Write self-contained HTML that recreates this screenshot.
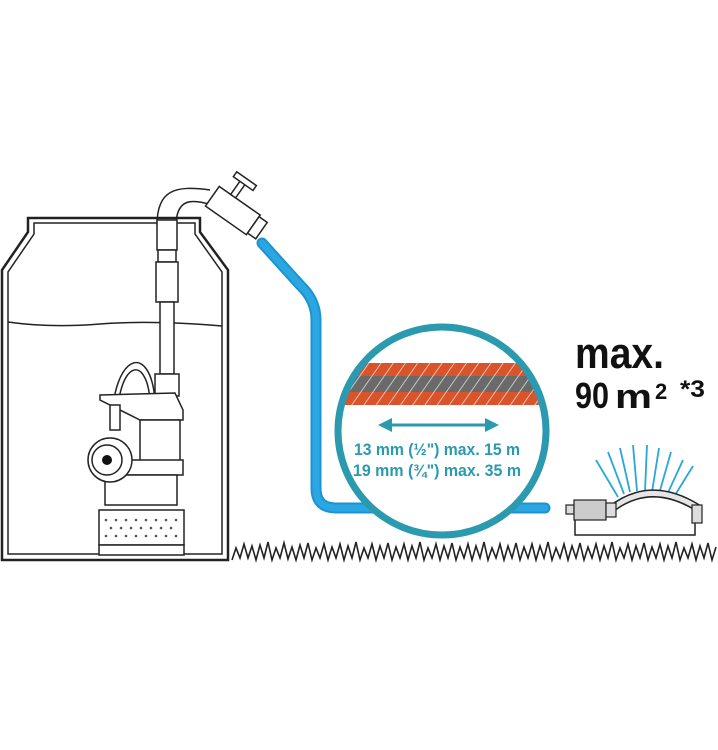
<!DOCTYPE html>
<html><head><meta charset="utf-8"><style>
html,body{margin:0;padding:0;background:#fff;}
svg{display:block;}
text{font-family:"Liberation Sans",sans-serif;font-weight:bold;}
</style></head><body>
<svg width="718" height="750" viewBox="0 0 718 750" xmlns="http://www.w3.org/2000/svg">
<defs>
<clipPath id="cc"><circle cx="442" cy="431" r="101"/></clipPath>
<pattern id="hatch" width="10" height="10" patternUnits="userSpaceOnUse" patternTransform="rotate(35)">
<line x1="0" y1="0" x2="0" y2="10" stroke="#fff" stroke-width="1.5" opacity="0.8"/>
</pattern>
</defs>
<path d="M28,218 L200,218 L200,232 L228,270 L228,560 L2,560 L2,270 L28,232 Z" fill="none" stroke="#222" stroke-width="2.5"/>
<path d="M34,223 L195,223 L195,234 L222,272 L222,554 L8,554 L8,272 L34,234 Z" fill="none" stroke="#222" stroke-width="1.5"/>
<path d="M8,322 Q50,328 100,324 T222,326" fill="none" stroke="#222" stroke-width="1.5"/>
<path d="M157,225 C157,190 175,185 210,190" fill="none" stroke="#222" stroke-width="1.5"/>
<path d="M176,222 C178,200 190,198 212,205" fill="none" stroke="#222" stroke-width="1.5"/>
<rect x="157" y="220" width="20" height="30" fill="#fff" stroke="#222" stroke-width="1.5"/>
<rect x="158" y="250" width="18" height="12" fill="#fff" stroke="#222" stroke-width="1.5"/>
<rect x="156" y="262" width="22" height="40" fill="#fff" stroke="#222" stroke-width="1.5"/>
<rect x="160" y="302" width="14" height="72" fill="#fff" stroke="#222" stroke-width="1.5"/>
<rect x="155" y="374" width="24" height="22" fill="#fff" stroke="#222" stroke-width="1.5"/>
<g transform="rotate(35 232 210)">
<rect x="208" y="198" width="50" height="24" fill="#fff" stroke="#222" stroke-width="1.5"/>
<rect x="222" y="180" width="6" height="18" fill="#fff" stroke="#222" stroke-width="1.5"/>
<rect x="214" y="176" width="24" height="6" fill="#fff" stroke="#222" stroke-width="1.5"/>
<rect x="258" y="200" width="10" height="20" fill="#fff" stroke="#222" stroke-width="1.5"/>
</g>
<path d="M112,425 C112,355 150,340 155,400" fill="none" stroke="#222" stroke-width="1.5"/>
<path d="M117,425 C117,362 146,352 150,400" fill="none" stroke="#222" stroke-width="1.5"/>
<path d="M100,395 L175,393 L183,410 L183,420 L140,420 L100,400 Z" fill="#fff" stroke="#222" stroke-width="1.5"/>
<rect x="140" y="420" width="40" height="50" fill="#fff" stroke="#222" stroke-width="1.5"/>
<rect x="108" y="460" width="75" height="15" fill="#fff" stroke="#222" stroke-width="1.5"/>
<rect x="105" y="475" width="72" height="30" fill="#fff" stroke="#222" stroke-width="1.5"/>
<rect x="99" y="510" width="85" height="35" fill="#fff" stroke="#222" stroke-width="1.5"/>
<rect x="99" y="545" width="85" height="10" fill="#fff" stroke="#222" stroke-width="1.5"/>
<g fill="#555"><circle cx="106" cy="520" r="1.3"/><circle cx="116" cy="520" r="1.3"/><circle cx="126" cy="520" r="1.3"/><circle cx="136" cy="520" r="1.3"/><circle cx="146" cy="520" r="1.3"/><circle cx="156" cy="520" r="1.3"/><circle cx="166" cy="520" r="1.3"/><circle cx="176" cy="520" r="1.3"/>
<circle cx="111" cy="528" r="1.3"/><circle cx="121" cy="528" r="1.3"/><circle cx="131" cy="528" r="1.3"/><circle cx="141" cy="528" r="1.3"/><circle cx="151" cy="528" r="1.3"/><circle cx="161" cy="528" r="1.3"/><circle cx="171" cy="528" r="1.3"/>
<circle cx="106" cy="536" r="1.3"/><circle cx="116" cy="536" r="1.3"/><circle cx="126" cy="536" r="1.3"/><circle cx="136" cy="536" r="1.3"/><circle cx="146" cy="536" r="1.3"/><circle cx="156" cy="536" r="1.3"/><circle cx="166" cy="536" r="1.3"/><circle cx="176" cy="536" r="1.3"/></g>
<rect x="110" y="405" width="10" height="25" fill="#fff" stroke="#222" stroke-width="1.5"/>
<circle cx="110" cy="460" r="22" fill="#fff" stroke="#222" stroke-width="1.5"/>
<circle cx="107" cy="460" r="15" fill="#fff" stroke="#222" stroke-width="1.5"/>
<circle cx="107" cy="460" r="5" fill="#111"/>
<path d="M262,243 L300,285 Q316,300 316,320 L316,488 Q316,508 336,508 L545,508" fill="none" stroke="#1b94cf" stroke-width="11" stroke-linecap="round"/>
<path d="M262,243 L300,285 Q316,300 316,320 L316,488 Q316,508 336,508 L545,508" fill="none" stroke="#2aa7e2" stroke-width="7" stroke-linecap="round"/>
<circle cx="442" cy="431" r="101" fill="#fff"/>
<g clip-path="url(#cc)">
<rect x="330" y="363" width="230" height="13" fill="#d9532b"/>
<rect x="330" y="376" width="230" height="16" fill="#6a6a6a"/>
<rect x="330" y="392" width="230" height="13" fill="#d9532b"/>
<rect x="330" y="363" width="230" height="42" fill="url(#hatch)"/>
</g>
<circle cx="442" cy="431" r="104" fill="none" stroke="#2b9aaf" stroke-width="7"/>
<line x1="390" y1="425" x2="488" y2="425" stroke="#2b9aaf" stroke-width="3"/>
<polygon points="378,425 392,418 392,432" fill="#2b9aaf"/>
<polygon points="499,425 485,418 485,432" fill="#2b9aaf"/>
<text x="437" y="455" font-size="17" fill="#2b9aaf" text-anchor="middle" textLength="166" lengthAdjust="spacingAndGlyphs">13 mm (½") max. 15 m</text>
<text x="437" y="476" font-size="17" fill="#2b9aaf" text-anchor="middle" textLength="168" lengthAdjust="spacingAndGlyphs">19 mm (¾") max. 35 m</text>
<text x="575" y="368" font-size="44" fill="#111" textLength="89" lengthAdjust="spacingAndGlyphs">max.</text>
<text x="575" y="408" font-size="36" fill="#111" textLength="34" lengthAdjust="spacingAndGlyphs">90</text>
<text x="615" y="408" font-size="34" fill="#111" textLength="37" lengthAdjust="spacingAndGlyphs">m</text>
<text x="655" y="399" font-size="22" fill="#111">2</text>
<text x="680" y="397" font-size="24" fill="#111" textLength="25" lengthAdjust="spacingAndGlyphs">*3</text>
<g stroke="#2aa7d8" stroke-width="1.8">
<line x1="618" y1="497" x2="596" y2="460"/><line x1="624" y1="494" x2="608" y2="452"/><line x1="630" y1="492" x2="620" y2="448"/><line x1="637" y1="491" x2="633" y2="445"/><line x1="645" y1="491" x2="647" y2="445"/><line x1="652" y1="492" x2="659" y2="448"/><line x1="659" y1="494" x2="671" y2="452"/><line x1="666" y1="497" x2="683" y2="460"/><line x1="672" y1="500" x2="693" y2="466"/>
</g>
<path d="M610,510 Q650,478 698,508" fill="none" stroke="#222" stroke-width="8"/>
<path d="M610,510 Q650,478 698,508" fill="none" stroke="#e6e6e6" stroke-width="5"/>
<path d="M575,518 L575,535 L695,535 L695,520" fill="none" stroke="#222" stroke-width="1.5"/>
<rect x="566" y="505" width="8" height="9" fill="#ddd" stroke="#222" stroke-width="1.2"/>
<rect x="574" y="500" width="32" height="20" fill="#ccc" stroke="#222" stroke-width="1.2"/>
<rect x="606" y="503" width="10" height="14" fill="#ddd" stroke="#222" stroke-width="1.2"/>
<rect x="692" y="505" width="10" height="18" fill="#ddd" stroke="#222" stroke-width="1.2"/>
<path d="M232,560 L236,548 L240,558 L244,544 L248,558 L252,546 L256,560 L260,545 L264,558 L268,542 L272,560 L276,548 L280,558 L284,543 L288,559 L292,547 L296,560 L300,545 L304,558 L308,543 L312,560 L316,548 L320,558 L324,544 L328,560 L332,547 L336,558 L340,544 L344,560 L348,546 L352,558 L356,542 L360,560 L364,548 L368,558 L372,544 L376,560 L380,546 L384,558 L388,543 L392,560 L396,547 L400,558 L404,544 L408,560 L412,546 L416,558 L420,542 L424,560 L428,548 L432,558 L436,544 L440,560 L444,546 L448,558 L452,543 L456,560 L460,547 L464,558 L468,544 L472,560 L476,546 L480,558 L484,542 L488,560 L492,548 L496,558 L500,544 L504,560 L508,546 L512,558 L516,543 L520,560 L524,547 L528,558 L532,544 L536,560 L540,546 L544,558 L548,542 L552,560 L556,548 L560,558 L564,544 L568,560 L572,546 L576,558 L580,543 L584,560 L588,547 L592,558 L596,544 L600,560 L604,546 L608,558 L612,542 L616,560 L620,548 L624,558 L628,544 L632,560 L636,546 L640,558 L644,543 L648,560 L652,547 L656,558 L660,544 L664,560 L668,546 L672,558 L676,542 L680,560 L684,548 L688,558 L692,544 L696,560 L700,546 L704,558 L708,543 L712,560 L716,547" fill="none" stroke="#222" stroke-width="1.6"/>
</svg>
</body></html>
